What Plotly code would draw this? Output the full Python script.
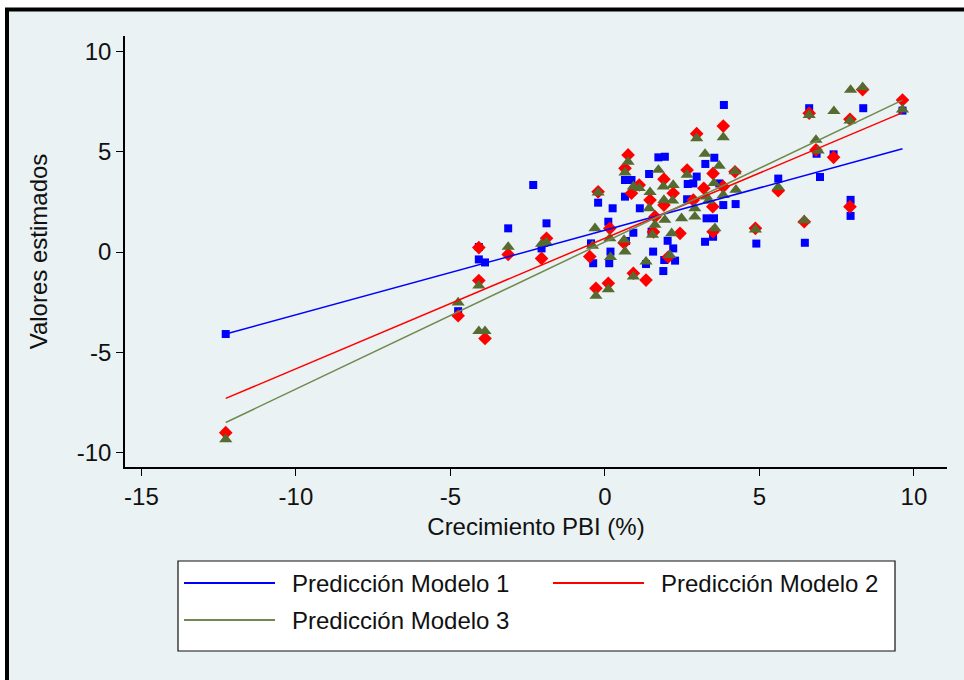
import plotly.graph_objects as go

# ---------------- data ----------------
m1_x = [-12.27, -4.75, -4.08, -4.08, -3.88, -3.13, -2.32, -2.05, -1.89,
        -0.45, -0.38, -0.22, 0.11, 0.14, 0.18, 0.25, 0.65, 0.65, 0.86, 0.68,
        0.92, 1.13, 1.33, 1.43, 1.56, 1.51, 1.73, 1.94, 1.89, 1.92, 2.03,
        2.21, 2.27, 2.66, 2.68, 2.86, 2.97, 3.24, 3.25, 3.29, 3.50, 3.53,
        3.54, 3.70, 3.83, 3.85, 4.23, 4.90, 5.61, 6.47, 6.61, 6.85, 6.96,
        7.40, 7.95, 7.95, 8.36, 9.63]
m1_y = [-4.09, -2.95, 0.25, -0.37, -0.52, 1.18, 3.34, 0.18, 1.43,
        0.43, -0.56, 2.46, 1.51, -0.56, 0.02, 2.18, 2.76, 3.59, 3.59, 0.55,
        0.96, 2.18, -0.60, 3.89, 0.02, 1.01, 4.72, 4.75, -0.95, -0.40, 0.56,
        0.18, -0.43, 2.63, 3.39, 3.42, 3.76, 0.51, 4.39, 1.68, 0.76, 1.68,
        4.70, 3.42, 2.34, 7.33, 2.39, 0.42, 3.66, 0.46, 7.17, 4.90, 3.74,
        4.87, 2.60, 1.80, 7.17, 7.05]

m2_x = [-12.27, -4.75, -4.08, -4.08, -3.88, -3.13, -2.05, -1.89,
        -0.22, -0.49, -0.29, 0.11, 0.16, 0.65, 0.75, 0.86, 1.11, 0.92, 1.33,
        1.62, 1.91, 1.46, 2.21, 1.91, 2.43, 2.66, 2.86, 2.97, 3.20, 3.49,
        3.50, 3.50, 3.83, 3.83, 4.21, 4.87, 5.61, 6.45, 6.61, 6.83, 7.40,
        7.93, 7.93, 8.34, 9.63, 0.62, 1.57, 2.05]
m2_y = [-9.01, -3.18, 0.22, -1.42, -4.31, -0.12, -0.32, 0.68,
        3.00, -0.23, -1.81, -1.56, 1.18, 4.17, 4.84, 2.93, 3.34, -1.06, -1.40,
        1.76, 3.63, 2.59, 2.93, 2.34, 0.93, 4.09, 2.59, 5.90, 3.18, 2.26,
        1.01, 3.92, 6.28, 3.26, 4.00, 1.18, 3.06, 1.51, 6.92, 5.09, 4.72,
        6.62, 2.26, 8.10, 7.58, 0.45, 1.00, -0.25]

m3_x = [-12.27, -4.75, -4.08, -4.08, -3.88, -3.13, -2.05, -1.89,
        -0.22, -0.32, -0.40, -0.29, 0.11, 0.18, 0.16, 0.65, 0.75, 0.62, 0.65,
        0.92, 1.11, 0.92, 1.33, 1.46, 1.43, 1.54, 1.62, 1.73, 1.89, 1.91,
        1.94, 2.10, 2.16, 2.19, 2.21, 2.48, 2.66, 2.91, 2.91, 2.97, 3.24,
        3.29, 3.35, 3.53, 3.56, 3.70, 3.83, 3.83, 4.21, 4.24, 4.87, 5.61,
        6.45, 6.61, 6.83, 6.90, 7.41, 7.95, 7.93, 8.34, 9.63]
m3_y = [-9.34, -2.52, -3.95, -1.68, -3.95, 0.25, 0.40, 0.47,
        2.96, 1.18, 0.30, -2.19, -1.86, -0.26, 0.68, 3.96, 4.50, 0.60, 0.02,
        3.26, 3.18, -1.23, -0.48, 2.98, 2.18, 0.85, 1.35, 4.09, 3.26, 2.59,
        1.60, -0.15, 0.93, 2.56, 3.34, 1.68, 3.84, 2.18, 1.76, 5.67, 4.89,
        2.76, 2.55, 3.43, 1.18, 4.30, 2.84, 5.72, 4.02, 3.10, 1.12, 3.23,
        1.58, 6.83, 5.59, 5.05, 7.02, 8.08, 6.55, 8.21, 7.10]

# fitted prediction lines (end points)
fit_x = [-12.27, 9.63]
fit_m1 = [-4.09, 5.15]
fit_m2 = [-7.30, 6.95]
fit_m3 = [-8.50, 7.57]

legend_labels = ["Predicción Modelo 1", "Predicción Modelo 2", "Predicción Modelo 3"]
x_ticks = [-15, -10, -5, 0, 5, 10]
x_ticklabels = ["-15", "-10", "-5", "0", "5", "10"]
y_ticks = [-10, -5, 0, 5, 10]
y_ticklabels = ["-10", "-5", "0", "5", "10"]

# ---------------- style ----------------
BLUE = "#0000FF"
RED = "#FF0000"
GREEN_M = "#556B2F"
GREEN_L = "#6F8A4E"
BG = "#EAF2F3"
FONT = "Liberation Sans, Arial, sans-serif"
FS = 24
TXT = "#111111"

W, H = 964, 680
L, R, T, B = 125, 17, 36, 213
PW, PH = W - L - R, H - T - B


def px(xp):
    return (xp - L) / PW


def py(yp):
    return (H - B - yp) / PH


fig = go.Figure()

fig.add_trace(go.Scatter(x=m1_x, y=m1_y, mode="markers", showlegend=False,
                         marker=dict(symbol="square", size=8, color=BLUE,
                                     line=dict(width=0))))
fig.add_trace(go.Scatter(x=m2_x, y=m2_y, mode="markers", showlegend=False,
                         marker=dict(symbol="diamond", size=10.5, color=RED,
                                     line=dict(width=0))))
fig.add_trace(go.Scatter(x=m3_x, y=m3_y, mode="markers", showlegend=False,
                         marker=dict(symbol="triangle-up", size=11.5, color=GREEN_M,
                                     line=dict(width=0))))

for yy, col in [(fit_m1, BLUE), (fit_m2, RED), (fit_m3, GREEN_L)]:
    fig.add_trace(go.Scatter(x=fit_x, y=yy, mode="lines", showlegend=False,
                             line=dict(color=col, width=1.5)))

shapes = []
# light graph-region background and black frame (top / left)
shapes.append(dict(type="rect", xref="paper", yref="paper", layer="below",
                   x0=px(8), x1=px(W + 5), y0=py(H + 5), y1=py(10),
                   fillcolor=BG, line=dict(width=0)))
shapes.append(dict(type="line", xref="paper", yref="paper",
                   x0=px(7), x1=px(7), y0=py(8), y1=py(H + 5),
                   line=dict(color="black", width=4)))
shapes.append(dict(type="line", xref="paper", yref="paper",
                   x0=px(5), x1=px(W + 5), y0=py(9.5), y1=py(9.5),
                   line=dict(color="black", width=4)))

# legend box
lg_x0, lg_x1, lg_y0, lg_y1 = 178, 895, 561, 651
shapes.append(dict(type="rect", xref="paper", yref="paper",
                   x0=px(lg_x0), x1=px(lg_x1), y0=py(lg_y1), y1=py(lg_y0),
                   fillcolor="white", line=dict(color="#111111", width=1.2)))
rows = [(184, 583, BLUE), (553, 583, RED), (184, 620, GREEN_L)]
annotations = []
for (lx, ly, col), lab in zip(rows, legend_labels):
    shapes.append(dict(type="line", xref="paper", yref="paper",
                       x0=px(lx), x1=px(lx + 91), y0=py(ly), y1=py(ly),
                       line=dict(color=col, width=1.8)))
    annotations.append(dict(xref="paper", yref="paper", x=px(lx + 106), y=py(ly),
                            text=lab, showarrow=False, xanchor="left", yanchor="middle",
                            font=dict(family=FONT, size=FS, color=TXT)))

fig.update_layout(
    width=W, height=H,
    margin=dict(l=L, r=R, t=T, b=B, pad=0),
    paper_bgcolor="white", plot_bgcolor="white",
    shapes=shapes, annotations=annotations,
    font=dict(family=FONT, size=FS, color=TXT),
)
fig.update_xaxes(range=[-15.53, 11.07], tickvals=x_ticks, ticktext=x_ticklabels,
                 ticks="outside", ticklen=7,
                 tickwidth=1.3, tickcolor="black", showline=True, linecolor="black",
                 linewidth=1.5, showgrid=False, zeroline=False,
                 title=dict(text="Crecimiento PBI (%)", standoff=10,
                            font=dict(family=FONT, size=FS, color=TXT)),
                 tickfont=dict(family=FONT, size=FS, color=TXT))
fig.update_yaxes(range=[-10.72, 10.77], tickvals=y_ticks, ticktext=y_ticklabels,
                 ticks="outside", ticklen=7,
                 tickwidth=1.3, tickcolor="black", showline=True, linecolor="black",
                 linewidth=1.5, showgrid=True, gridcolor=BG, gridwidth=1.5,
                 zeroline=False,
                 title=dict(text="Valores estimados", standoff=22,
                            font=dict(family=FONT, size=FS, color=TXT)),
                 tickfont=dict(family=FONT, size=FS, color=TXT))

fig.write_html("out.html", config={"displayModeBar": False},
               post_script="document.body.style.margin='0';")
